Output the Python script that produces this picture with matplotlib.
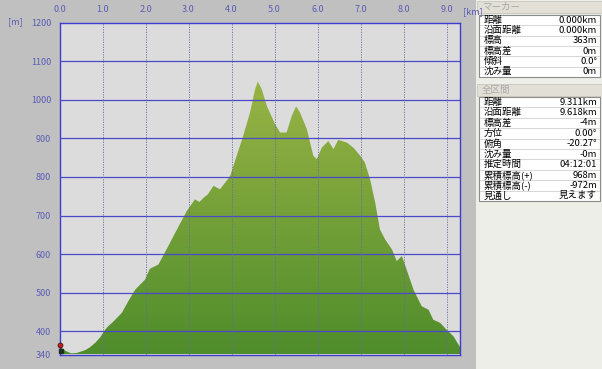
import numpy as np
import matplotlib
matplotlib.use("Agg")
import matplotlib.pyplot as plt
from matplotlib.patches import Rectangle

plt.rcParams['font.family'] = ['Noto Sans CJK JP', 'DejaVu Sans']

# elevation profile
dist_km = [0.00, 0.10, 0.20, 0.28, 0.40, 0.59, 0.70, 0.83, 0.95, 1.06, 1.13, 1.25,
           1.45, 1.60, 1.76, 1.99, 2.10, 2.30, 2.53, 2.76, 2.96, 3.15, 3.25, 3.35,
           3.45, 3.58, 3.73, 3.85, 3.97, 4.12, 4.27, 4.43, 4.55, 4.61, 4.70, 4.82,
           5.01, 5.13, 5.28, 5.40, 5.50, 5.59, 5.75, 5.90, 5.98, 6.10, 6.25, 6.37,
           6.48, 6.68, 6.83, 6.99, 7.10, 7.22, 7.34, 7.45, 7.57, 7.73, 7.84, 7.96,
           8.07, 8.23, 8.42, 8.58, 8.69, 8.85, 9.00, 9.16, 9.311]
elev_m = [363, 352, 346, 343, 344, 351, 358, 370, 385, 404, 413, 425,
          448, 478, 508, 534, 562, 573, 621, 670, 712, 742, 735, 746,
          755, 777, 768, 785, 803, 855, 906, 967, 1028, 1047, 1028, 984,
          937, 915, 915, 958, 983, 967, 924, 855, 846, 876, 893, 872,
          896, 889, 876, 855, 837, 794, 733, 664, 638, 612, 582, 595,
          560, 508, 465, 456, 430, 422, 404, 387, 359]

x_ticks = [0, 1, 2, 3, 4, 5, 6, 7, 8, 9]
y_ticks = [340, 400, 500, 600, 700, 800, 900, 1000, 1100, 1200]

marker_rows = [("距離", "0.000km"), ("沿面距離", "0.000km"), ("標高", "363m"),
               ("標高差", "0m"), ("傾斜", "0.0°"), ("沈み量", "0m")]
total_rows = [("距離", "9.311km"), ("沿面距離", "9.618km"), ("標高差", "-4m"),
              ("方位", "0.00°"), ("俯角", "-20.27°"), ("沈み量", "-0m"),
              ("推定時間", "04:12:01"), ("累積標高(+)", "968m"),
              ("累積標高(-)", "-972m"), ("見通し", "見えます")]

W, H = 602, 369
fig = plt.figure(figsize=(W / 100, H / 100), dpi=100, facecolor="#c0c0c0")


def fx(px):
    return px / W


def fy(py):
    return 1 - py / H


# plot area
x0, x1, y0, y1 = 59.5, 460, 22.5, 354.5
ax = fig.add_axes([fx(x0), fy(y1), fx(x1 - x0), (y1 - y0) / H])
ax.set_facecolor("#dcdcdc")
ax.set_xlim(0, 9.311)
ax.set_ylim(340, 1200)

poly = ax.fill_between(dist_km, elev_m, 340, color="none", lw=0)
grad = np.linspace(0, 1, 256).reshape(-1, 1)
cmap = matplotlib.colors.LinearSegmentedColormap.from_list("g", ["#4f8d2b", "#9ab446"])
img = ax.imshow(grad, cmap=cmap, origin="lower", aspect="auto",
                extent=[0, 9.311, 340, 1060], zorder=1)
img.set_clip_path(poly.get_paths()[0], transform=ax.transData)

for y in y_ticks[1:-1]:
    ax.axhline(y, color="#4a4ac8", lw=0.9, zorder=3)
for x in x_ticks[1:]:
    ax.axvline(x, color="#6a6aa0", lw=0.6, ls=(0, (1.5, 1.5)), zorder=3)

for s in ax.spines.values():
    s.set_color("#3c3cd0")
    s.set_linewidth(1.0)

ax.xaxis.tick_top()
ax.set_xticks(x_ticks)
ax.set_xticklabels(["%.1f" % v for v in x_ticks])
ax.set_yticks(y_ticks)
ax.set_yticklabels([str(v) for v in y_ticks])
ax.tick_params(length=0, labelsize=6.5, labelcolor="#5c5cb8", pad=6)

# start marker
ax.plot([0.03], [349], marker="s", ms=2.5, color="#203020", zorder=5, clip_on=False)
ax.plot([0.0], [364], marker="o", ms=3.5, mfc="#c82020", mec="#401010", mew=0.6,
        zorder=6, clip_on=False)

fig.text(fx(8), fy(22), "[m]", fontsize=6.5, color="#5c5cb8", va="center")
fig.text(fx(463), fy(12), "[km]", fontsize=6.5, color="#5c5cb8", va="center")

# side panel
fig.patches.append(Rectangle((fx(476), 0), fx(W - 476), 1, transform=fig.transFigure,
                             facecolor="#eeeee8", edgecolor="none"))


def header(top, text):
    fig.patches.append(Rectangle((fx(477), fy(top + 12)), fx(W - 477), 12 / H,
                                 transform=fig.transFigure, facecolor="#e2e0d6",
                                 edgecolor="#c8c6bc", lw=0.6))
    fig.text(fx(482), fy(top + 6), text, fontsize=6.8, color="#a8a8a8", va="center")


def table(top, rows, rh):
    n = len(rows)
    fig.patches.append(Rectangle((fx(479), fy(top + n * rh)), fx(W - 481), n * rh / H,
                                 transform=fig.transFigure, facecolor="white",
                                 edgecolor="#8c8c8c", lw=0.8))
    for i, (lab, val) in enumerate(rows):
        yc = top + (i + 0.5) * rh
        if i > 0:
            fig.lines.append(plt.Line2D([fx(480), fx(W - 3)], [fy(top + i * rh)] * 2,
                                        transform=fig.transFigure, color="#d0d0d0", lw=0.6))
        fig.text(fx(484), fy(yc), lab, fontsize=6.8, color="black", va="center")
        fig.text(fx(597), fy(yc), val, fontsize=6.8, color="black", va="center", ha="right")


header(1, "マーカー")
table(15, marker_rows, 10.3)
header(84, "全区間")
table(97, total_rows, 10.4)

fig.savefig("out.png", dpi=100, facecolor=fig.get_facecolor())
